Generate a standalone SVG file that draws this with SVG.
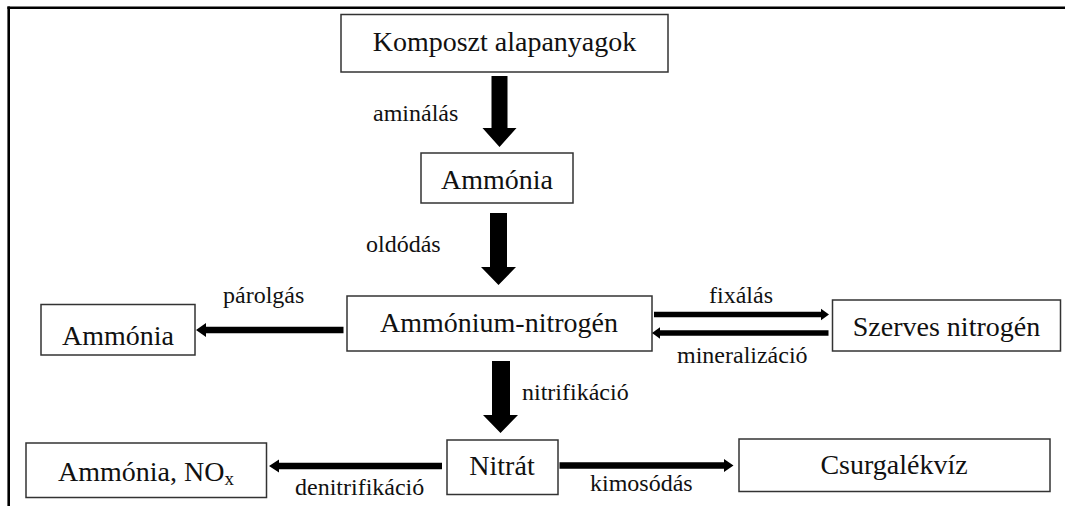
<svg xmlns="http://www.w3.org/2000/svg" width="1065" height="506" viewBox="0 0 1065 506">
<style>
.box{fill:#fff;stroke:#333;stroke-width:1.5}
.t{font-family:"Liberation Serif","Times New Roman",serif;font-size:28px;fill:#111;text-anchor:middle}
.l{font-family:"Liberation Serif","Times New Roman",serif;font-size:24px;fill:#111}
.a{fill:#000}
</style>
<rect width="1065" height="506" fill="#fff"/>
<g id="frame" stroke="#000" stroke-width="2.6" fill="none">
<line x1="7.4" y1="7.7" x2="1066" y2="7.7"/>
<line x1="8.7" y1="6.4" x2="8.7" y2="506"/>
</g>
<g id="n-komposzt"><rect class="box" x="341" y="14.5" width="327" height="57.5"/><text class="t" x="504.5" y="50.5">Komposzt alapanyagok</text></g>
<g id="n-ammonia1"><rect class="box" x="421" y="153" width="152" height="50"/><text class="t" x="497" y="189" font-size="27">Ammónia</text></g>
<g id="n-ammonium"><rect class="box" x="347" y="296" width="305" height="55"/><text class="t" x="499" y="332">Ammónium-nitrogén</text></g>
<g id="n-ammonia2"><rect class="box" x="41" y="304.5" width="154" height="50.5"/><text class="t" x="118" y="345">Ammónia</text></g>
<g id="n-szerves"><rect class="box" x="832.5" y="300" width="228" height="51"/><text class="t" x="946.5" y="336">Szerves nitrogén</text></g>
<g id="n-nitrat"><rect class="box" x="447" y="440" width="111" height="54.5"/><text class="t" x="502" y="475">Nitrát</text></g>
<g id="n-nox"><rect class="box" x="26" y="443" width="240.5" height="54.5"/><text class="t" x="146" y="480.5">Ammónia, NO<tspan font-size="19" dy="4">x</tspan></text></g>
<g id="n-csurgalek"><rect class="box" x="739" y="439" width="311" height="52.5"/><text class="t" x="894" y="473.5">Csurgalékvíz</text></g>
<g id="connectors">
<path class="a" d="M491.5,76 H507.5 V128 H516.5 L499.5,147 L482.5,128 H491.5 Z"/>
<path class="a" d="M490,213 H507 V267 H516 L498.5,285 L481,267 H490 Z"/>
<path class="a" d="M492,361 H510 V415 H518 L500.5,433 L483,415 H492 Z"/>
<path class="a" d="M343.5,326.8 V333.2 H206 V337 L196,330 L206,323 V326.8 Z"/>
<path class="a" d="M654,311.8 H821 V308.8 L829,314.5 L821,320.2 V317.2 H654 Z"/>
<path class="a" d="M828.5,330.2 H660 V327.2 L652,333 L660,338.8 V335.8 H828.5 Z"/>
<path class="a" d="M442,462.8 H279 V459.5 L269,466 L279,472.5 V469.2 H442 Z"/>
<path class="a" d="M559.5,462.3 H724 V459 L733.5,465.5 L724,472 V468.7 H559.5 Z"/>
</g>
<g id="labels">
<text class="l" x="373" y="121">aminálás</text>
<text class="l" x="366" y="252">oldódás</text>
<text class="l" x="223" y="303">párolgás</text>
<text class="l" x="709" y="303">fixálás</text>
<text class="l" x="677" y="363">mineralizáció</text>
<text class="l" x="522" y="400">nitrifikáció</text>
<text class="l" x="295" y="495">denitrifikáció</text>
<text class="l" x="590" y="491">kimosódás</text>
</g>
</svg>
